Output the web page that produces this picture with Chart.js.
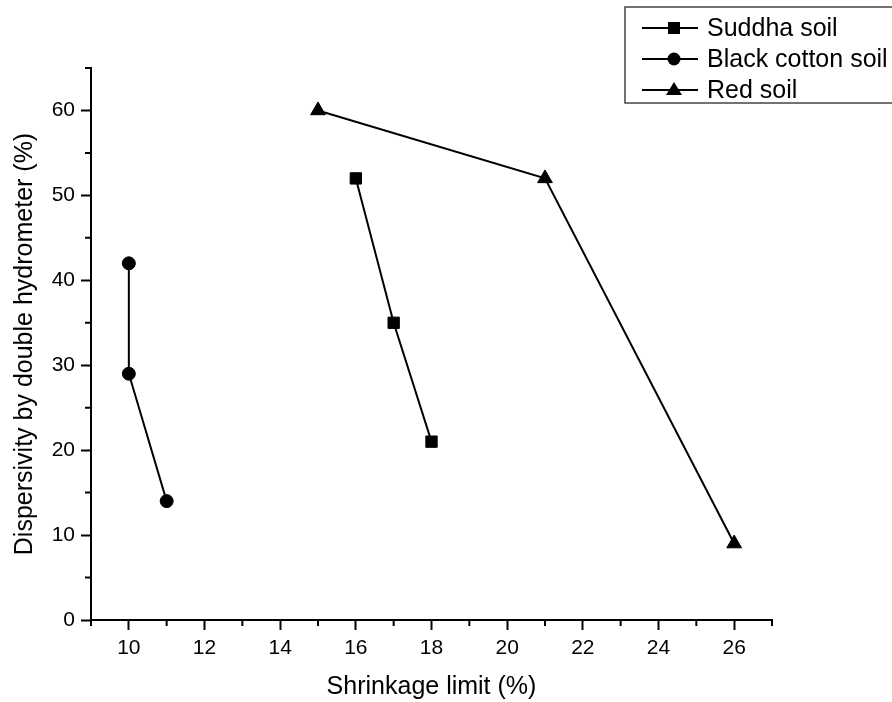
<!DOCTYPE html>
<html>
<head>
<meta charset="utf-8">
<script src="https://cdn.jsdelivr.net/npm/chart.js@4"></script>
<style>
  html, body { margin: 0; padding: 0; background: #fff; }
  #wrap { width: 892px; height: 702px; }
</style>
</head>
<body>
<div id="wrap"><canvas id="chart" width="892" height="702"></canvas></div>
<script>
// data
const suddhaX = [16, 17, 18];
const suddhaY = [52, 35, 21];
const blackX = [10, 10, 11];
const blackY = [42, 29, 14];
const redX = [15, 21, 26];
const redY = [60, 52, 9];

const seriesNames = ['Suddha soil', 'Black cotton soil', 'Red soil'];
const xTickValues = [10, 12, 14, 16, 18, 20, 22, 24, 26];
const xMinorTicks = [9, 11, 13, 15, 17, 19, 21, 23, 25, 27];
const yTickValues = [0, 10, 20, 30, 40, 50, 60];
const yMinorTicks = [5, 15, 25, 35, 45, 55, 65];

const FONT = 'Arial, "Liberation Sans", sans-serif';

function toPoints(xs, ys) {
  return xs.map((x, i) => ({ x: x, y: ys[i] }));
}

function makeSet(label, xs, ys, style, radius) {
  return {
    label: label,
    data: toPoints(xs, ys),
    showLine: true,
    borderColor: '#000',
    backgroundColor: '#000',
    borderWidth: 2,
    pointStyle: style,
    pointRadius: radius,
    pointBackgroundColor: '#000',
    pointBorderColor: '#000',
    pointBorderWidth: 1
  };
}

// minor ticks on both axes
const minorTicks = {
  id: 'minorTicks',
  afterDraw(chart) {
    const ctx = chart.ctx;
    const xs = chart.scales.x, ys = chart.scales.y;
    ctx.save();
    ctx.strokeStyle = '#000';
    ctx.lineWidth = 2;
    ctx.beginPath();
    xMinorTicks.forEach(v => {
      const px = xs.getPixelForValue(v);
      ctx.moveTo(px, xs.top);
      ctx.lineTo(px, xs.top + 6);
    });
    yMinorTicks.forEach(v => {
      const py = ys.getPixelForValue(v);
      ctx.moveTo(ys.right, py);
      ctx.lineTo(ys.right - 6, py);
    });
    ctx.stroke();
    ctx.restore();
  }
};

// boxed legend in the top right corner
const boxLegend = {
  id: 'boxLegend',
  afterDraw(chart) {
    const ctx = chart.ctx;
    ctx.save();
    ctx.strokeStyle = '#444';
    ctx.lineWidth = 1.5;
    ctx.strokeRect(625, 7, 290, 96);
    ctx.font = '25px ' + FONT;
    ctx.textBaseline = 'middle';
    ctx.fillStyle = '#000';
    chart.data.datasets.forEach((ds, i) => {
      const y = 28 + i * 31;
      ctx.strokeStyle = '#000';
      ctx.lineWidth = 2;
      ctx.beginPath();
      ctx.moveTo(642, y);
      ctx.lineTo(698, y);
      ctx.stroke();
      ctx.beginPath();
      if (ds.pointStyle === 'rect') {
        ctx.rect(668, y - 6, 12, 12);
      } else if (ds.pointStyle === 'circle') {
        ctx.arc(674, y, 6.5, 0, Math.PI * 2);
      } else {
        ctx.moveTo(674, y - 8);
        ctx.lineTo(682, y + 5);
        ctx.lineTo(666, y + 5);
        ctx.closePath();
      }
      ctx.fill();
      ctx.fillText(ds.label, 707, y + 1);
    });
    ctx.restore();
  }
};

new Chart(document.getElementById('chart').getContext('2d'), {
  type: 'scatter',
  data: {
    datasets: [
      makeSet(seriesNames[0], suddhaX, suddhaY, 'rect', 8),
      makeSet(seriesNames[1], blackX, blackY, 'circle', 6.5),
      makeSet(seriesNames[2], redX, redY, 'triangle', 8.5)
    ]
  },
  options: {
    responsive: false,
    animation: false,
    layout: { padding: { top: 68, right: 120, left: 0, bottom: 0 } },
    plugins: {
      legend: { display: false },
      tooltip: { enabled: false }
    },
    scales: {
      x: {
        type: 'linear',
        min: 9,
        max: 27,
        afterBuildTicks: s => { s.ticks = xTickValues.map(v => ({ value: v })); },
        afterFit: s => { s.height = 82; },
        border: { display: true, color: '#000', width: 2 },
        grid: { drawOnChartArea: false, drawTicks: true, tickLength: 10, tickColor: '#000', tickWidth: 2 },
        ticks: { color: '#000', font: { family: FONT, size: 21 }, padding: 6, maxRotation: 0 },
        title: { display: true, text: 'Shrinkage limit (%)', color: '#000', font: { family: FONT, size: 25 }, padding: { top: 0, bottom: 0 } }
      },
      y: {
        type: 'linear',
        min: 0,
        max: 65,
        afterBuildTicks: s => { s.ticks = yTickValues.map(v => ({ value: v })); },
        afterFit: s => { s.width = 91; },
        border: { display: true, color: '#000', width: 2 },
        grid: { drawOnChartArea: false, drawTicks: true, tickLength: 10, tickColor: '#000', tickWidth: 2 },
        ticks: { color: '#000', font: { family: FONT, size: 21 }, padding: 6 },
        title: { display: true, text: 'Dispersivity by double hydrometer (%)', color: '#000', font: { family: FONT, size: 25 }, padding: { top: 10, bottom: 4 } }
      }
    }
  },
  plugins: [minorTicks, boxLegend]
});
</script>
</body>
</html>
